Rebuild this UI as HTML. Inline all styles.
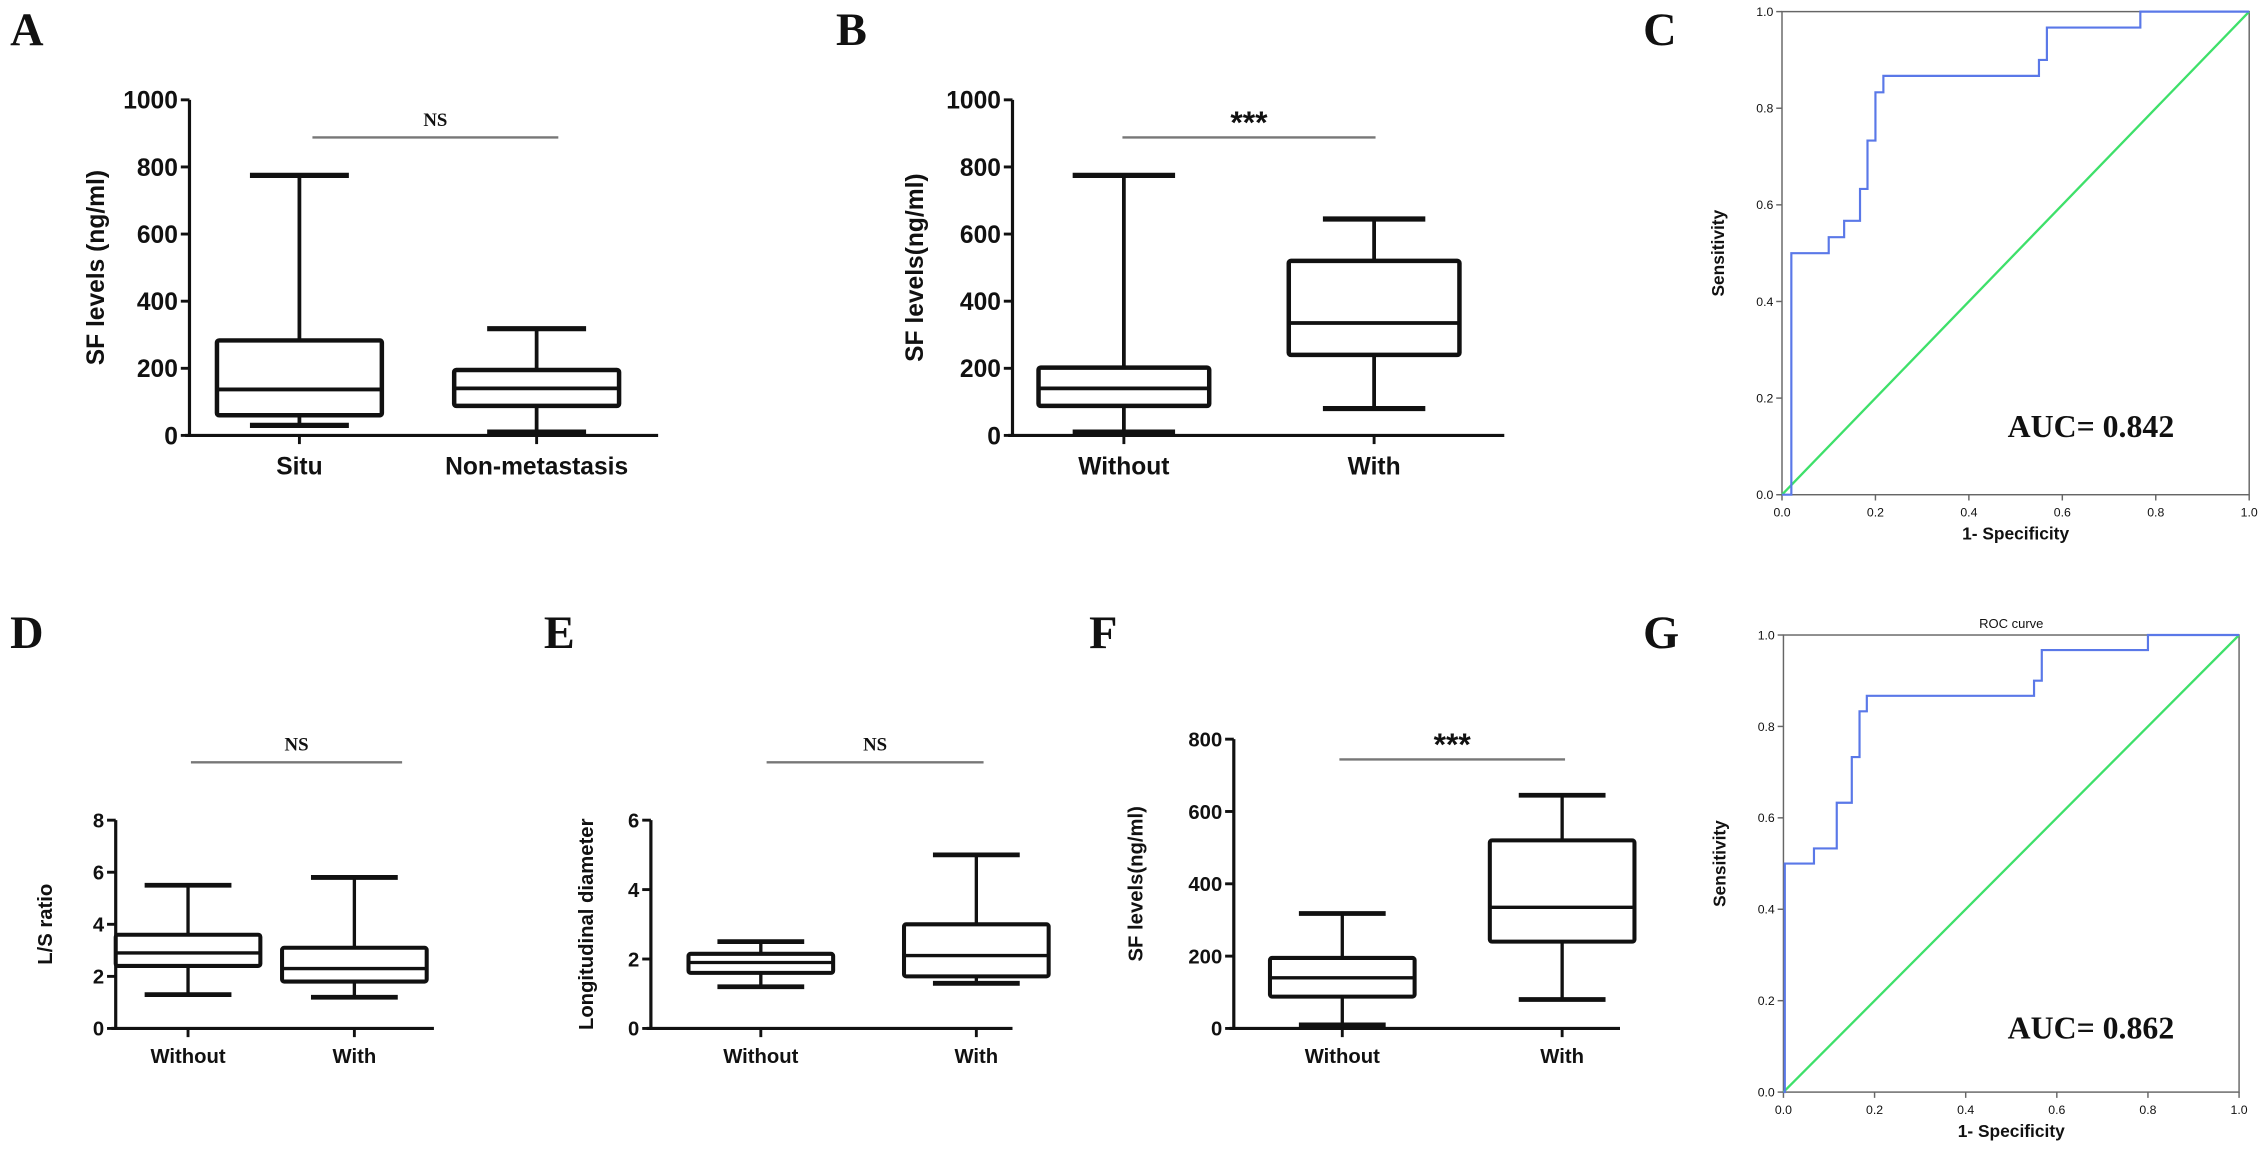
<!DOCTYPE html>
<html><head><meta charset="utf-8"><style>
html,body{margin:0;padding:0;background:#fff;overflow:hidden;}
svg{display:block;}
text{font-family:"Liberation Sans",Arial,sans-serif;font-weight:bold;fill:#111;}
.pl{font-family:"Liberation Serif",serif;font-size:32px;font-weight:bold;}
</style></head><body>
<svg id="fig" width="2268" height="1163" viewBox="0 0 1568 804" xmlns="http://www.w3.org/2000/svg"></svg>
<script>
// ---- data ----
const catsA = ["Situ","Non-metastasis"];
const boxA = [[30,60,137,283,775],[10,88,140,195,318]];
const ticksA = [0,200,400,600,800,1000];
const catsB = ["Without","With"];
const boxB = [[10,88,140,202,775],[80,240,335,520,645]];
const ticksB = [0,200,400,600,800,1000];
const catsD = ["Without","With"];
const boxD = [[1.3,2.4,2.9,3.6,5.5],[1.2,1.8,2.3,3.1,5.8]];
const ticksD = [0,2,4,6,8];
const catsE = ["Without","With"];
const boxE = [[1.2,1.6,1.9,2.15,2.5],[1.3,1.5,2.1,3.0,5.0]];
const ticksE = [0,2,4,6];
const catsF = ["Without","With"];
const boxF = [[10,88,140,195,318],[80,240,335,520,645]];
const ticksF = [0,200,400,600,800];
const rocFprC = [0,0.02,0.02,0.1,0.1,0.133,0.133,0.167,0.167,0.183,0.183,0.2,0.2,0.217,0.217,0.55,0.55,0.567,0.567,0.767,0.767,1];
const rocTprC = [0,0,0.5,0.5,0.533,0.533,0.567,0.567,0.633,0.633,0.733,0.733,0.833,0.833,0.867,0.867,0.9,0.9,0.967,0.967,1,1];
const rocFprG = [0,0.003,0.003,0.067,0.067,0.117,0.117,0.15,0.15,0.167,0.167,0.183,0.183,0.2,0.2,0.55,0.55,0.567,0.567,0.8,0.8,1];
const rocTprG = [0,0,0.5,0.5,0.533,0.533,0.633,0.633,0.733,0.733,0.833,0.833,0.867,0.867,0.867,0.867,0.9,0.9,0.967,0.967,1,1];
const rocTicks = [0,0.2,0.4,0.6,0.8,1.0];

const NS="http://www.w3.org/2000/svg", svg=document.getElementById('fig');
function mk(tag,attrs,parent,txt){const e=document.createElementNS(NS,tag);for(const k in attrs)e.setAttribute(k,attrs[k]);if(txt!==undefined)e.textContent=txt;(parent||svg).appendChild(e);return e;}

function label(t,x,y){const e=mk('text',{x:x,y:y,class:'pl'},svg,t);

}

function boxPanel(o){
 const g=mk('g',{});
 
 
 const ys=v=>o.y0-(v/o.max)*(o.y0-o.yTop);
 const fs=o.fs;
 mk('line',{x1:o.ax,y1:o.yTop,x2:o.ax,y2:o.y0,stroke:'#111','stroke-width':2.2},g);
 mk('line',{x1:o.ax-3,y1:o.y0,x2:o.xEnd,y2:o.y0,stroke:'#111','stroke-width':2.2},g);
 o.ticks.forEach(t=>{const y=ys(t);
  mk('line',{x1:o.ax-6,y1:y,x2:o.ax,y2:y,stroke:'#111','stroke-width':2},g);
  const tx=mk('text',{x:o.ax-8,y:y+fs*0.36,'text-anchor':'end','font-size':fs},g,String(t));
  
  });
 const yl=mk('text',{x:0,y:0,'text-anchor':'middle','font-size':o.lfs,transform:`translate(${o.lx},${(o.yTop+o.y0)/2}) rotate(-90)`},g,o.ylabel);
 
 
 o.cats.forEach((c,i)=>{const cx=o.cx[i], b=o.box[i], hw=o.hw, cw=hw*0.6;
  const bg=mk('g',{},g);
  
  
  const sw=o.sw;
  mk('line',{x1:cx,y1:ys(b[0]),x2:cx,y2:ys(b[1]),stroke:'#111','stroke-width':sw},bg);
  mk('line',{x1:cx,y1:ys(b[3]),x2:cx,y2:ys(b[4]),stroke:'#111','stroke-width':sw},bg);
  mk('line',{x1:cx-cw,y1:ys(b[0]),x2:cx+cw,y2:ys(b[0]),stroke:'#111','stroke-width':sw+1},bg);
  mk('line',{x1:cx-cw,y1:ys(b[4]),x2:cx+cw,y2:ys(b[4]),stroke:'#111','stroke-width':sw+1},bg);
  mk('rect',{x:cx-hw,y:ys(b[3]),width:2*hw,height:ys(b[1])-ys(b[3]),fill:'none',stroke:'#111','stroke-width':sw+0.5,rx:1.5},bg);
  mk('line',{x1:cx-hw,y1:ys(b[2]),x2:cx+hw,y2:ys(b[2]),stroke:'#111','stroke-width':sw},bg);
  mk('line',{x1:cx,y1:o.y0,x2:cx,y2:o.y0+6,stroke:'#111','stroke-width':2},g);
  const xt=mk('text',{x:cx,y:o.y0+fs+10,'text-anchor':'middle','font-size':fs},g,c);
  
  });
 mk('line',{x1:o.sig[0],y1:o.sig[2],x2:o.sig[1],y2:o.sig[2],stroke:'#777','stroke-width':1.6},g);
 const st=mk('text',{x:(o.sig[0]+o.sig[1])/2,y:o.sig[2]-(o.sigText==='NS'?8:3),'text-anchor':'middle','font-size':o.sigText==='NS'?13:22,fill:'#444',style:o.sigText==='NS'?'font-family:Liberation Serif,serif':''},g,o.sigText);
 
 
}

function rocPanel(o){
 const g=mk('g',{});
 
 
 const xs=v=>o.x0+v*(o.x1-o.x0), ys=v=>o.y1-v*(o.y1-o.y0);
 mk('rect',{x:o.x0,y:o.y0,width:o.x1-o.x0,height:o.y1-o.y0,fill:'none',stroke:'#666','stroke-width':1},g);
 rocTicks.forEach(t=>{
  mk('line',{x1:xs(t),y1:o.y1,x2:xs(t),y2:o.y1+4,stroke:'#666'},g);
  mk('line',{x1:o.x0-4,y1:ys(t),x2:o.x0,y2:ys(t),stroke:'#666'},g);
  const a=mk('text',{x:xs(t),y:o.y1+15,'text-anchor':'middle','font-size':8.5,style:'font-weight:normal'},g,t.toFixed(1));
  
  
  const b=mk('text',{x:o.x0-6,y:ys(t)+3,'text-anchor':'end','font-size':8.5,style:'font-weight:normal'},g,t.toFixed(1));
  
  });
 const xl=mk('text',{x:(o.x0+o.x1)/2,y:o.y1+31,'text-anchor':'middle','font-size':12},g,'1- Specificity');
 
 
 const yl=mk('text',{x:0,y:0,'text-anchor':'middle','font-size':12,transform:`translate(${o.x0-40},${(o.y0+o.y1)/2}) rotate(-90)`},g,'Sensitivity');
 
 
 const ref=mk('line',{x1:xs(0),y1:ys(0),x2:xs(1),y2:ys(1),stroke:'#3ee06a','stroke-width':1.6},g);
 
 
 const pts=o.fpr.map((f,i)=>xs(f)+','+ys(o.tpr[i])).join(' ');
 const c=mk('polyline',{points:pts,fill:'none',stroke:'#5a78e8','stroke-width':1.5},g);
 
 
 const au=mk('text',{x:o.aucX,y:o.aucY,'font-size':22,style:'font-family:Liberation Serif,serif'},g,o.auc);
 
 
 if(o.title){const t=mk('text',{x:(o.x0+o.x1)/2,y:o.y0-5,'text-anchor':'middle','font-size':9,style:'font-weight:normal'},g,o.title);
  
  }
}

label('A',7,31);label('B',578,31);label('C',1136,31);
label('D',7,448);label('E',376,448);label('F',753,448);label('G',1136,448);

boxPanel({name:'panel-a',ax:131,yTop:69,y0:301,xEnd:455,max:1000,ticks:ticksA,cats:catsA,box:boxA,cx:[207,371],hw:57,fs:17,lfs:17,lx:72,ylabel:'SF levels  (ng/ml)',sig:[216,386,95],sigText:'NS',sw:2.6});
boxPanel({name:'panel-b',ax:700,yTop:69,y0:301,xEnd:1040,max:1000,ticks:ticksB,cats:catsB,box:boxB,cx:[777,950],hw:59,fs:17,lfs:17,lx:638,ylabel:'SF levels(ng/ml)',sig:[776,951,95],sigText:'***',sw:2.6});
boxPanel({name:'panel-d',ax:80,yTop:567,y0:711,xEnd:300,max:8,ticks:ticksD,cats:catsD,box:boxD,cx:[130,245],hw:50,fs:14,lfs:14,lx:36,ylabel:'L/S ratio',sig:[132,278,527],sigText:'NS',sw:2.3});
boxPanel({name:'panel-e',ax:450,yTop:567,y0:711,xEnd:700,max:6,ticks:ticksE,cats:catsE,box:boxE,cx:[526,675],hw:50,fs:14,lfs:14,lx:410,ylabel:'Longitudinal diameter',sig:[530,680,527],sigText:'NS',sw:2.3});
boxPanel({name:'panel-f',ax:853,yTop:511,y0:711,xEnd:1120,max:800,ticks:ticksF,cats:catsF,box:boxF,cx:[928,1080],hw:50,fs:14,lfs:14,lx:790,ylabel:'SF levels(ng/ml)',sig:[926,1082,525],sigText:'***',sw:2.3});

rocPanel({name:'panel-c',x0:1232,x1:1555,y0:8,y1:342,fpr:rocFprC,tpr:rocTprC,auc:'AUC= 0.842',aucX:1388,aucY:302});
rocPanel({name:'panel-g',x0:1233,x1:1548,y0:439,y1:755,fpr:rocFprG,tpr:rocTprG,auc:'AUC= 0.862',aucX:1388,aucY:718,title:'ROC curve'});
</script>
</body></html>
